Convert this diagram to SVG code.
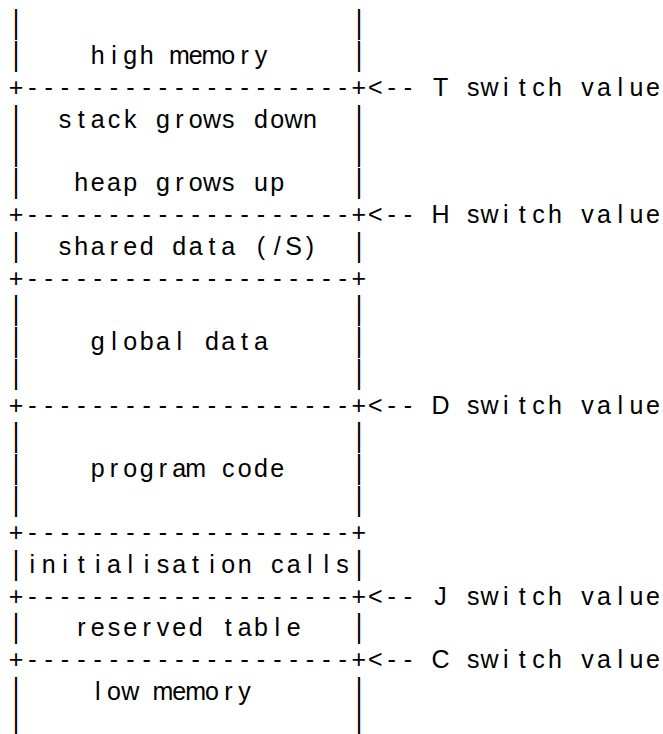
<svg xmlns="http://www.w3.org/2000/svg" xmlns:xlink="http://www.w3.org/1999/xlink" width="663" height="734" viewBox="0 0 663 734">
<style>
text { font-family: "Liberation Sans", Arial, sans-serif; font-size: 25px; fill: #000; text-anchor: middle; }
</style>
<defs>
<text id="border" x="16.0 32.3 48.7 65.0 81.3 97.7 114.0 130.3 146.6 163.0 179.3 195.6 212.0 228.3 244.6 261.0 277.3 293.6 309.9 326.3 342.6 358.9" y="0">+--------------------+</text>
<text id="bars" x="16.0 358.9" y="6.47">||</text>
</defs>
<rect width="663" height="734" fill="#fff"/>

<g id="borders">
<use xlink:href="#border" href="#border" transform="translate(0,96.3)"/>
<use xlink:href="#border" href="#border" transform="translate(0,223.4)"/>
<use xlink:href="#border" href="#border" transform="translate(0,287.0)"/>
<use xlink:href="#border" href="#border" transform="translate(0,414.1)"/>
<use xlink:href="#border" href="#border" transform="translate(0,541.2)"/>
<use xlink:href="#border" href="#border" transform="translate(0,604.8)"/>
<use xlink:href="#border" href="#border" transform="translate(0,668.3)"/>
</g>

<g id="high-memory">
<use href="#bars" transform="translate(0,24.4) scale(1,1.36)"/>
<use href="#bars" transform="translate(0,56.2) scale(1,1.36)"/>
<text x="97.7 114.0 130.3 146.6 163.0 179.3 195.6 212.0 228.3 244.6 261.0" y="64.2">high memory</text>
</g>

<g id="stack-heap">
<use href="#bars" transform="translate(0,119.8) scale(1,1.36)"/>
<use href="#bars" transform="translate(0,151.6) scale(1,1.36)"/>
<use href="#bars" transform="translate(0,183.3) scale(1,1.36)"/>
<text x="65.0 81.3 97.7 114.0 130.3 146.6 163.0 179.3 195.6 212.0 228.3 244.6 261.0 277.3 293.6 309.9" y="127.8">stack grows down</text>
<text x="81.3 97.7 114.0 130.3 146.6 163.0 179.3 195.6 212.0 228.3 244.6 261.0 277.3" y="191.3">heap grows up</text>
</g>

<g id="shared-data">
<use href="#bars" transform="translate(0,246.9) scale(1,1.36)"/>
<text x="65.0 81.3 97.7 114.0 130.3 146.6 163.0 179.3 195.6 212.0 228.3 244.6 261.0 277.3 293.6 309.9" y="254.9">shared data (/S)</text>
</g>

<g id="global-data">
<use href="#bars" transform="translate(0,310.5) scale(1,1.36)"/>
<use href="#bars" transform="translate(0,342.2) scale(1,1.36)"/>
<use href="#bars" transform="translate(0,374.0) scale(1,1.36)"/>
<text x="97.7 114.0 130.3 146.6 163.0 179.3 195.6 212.0 228.3 244.6 261.0" y="350.2">global data</text>
</g>

<g id="program-code">
<use href="#bars" transform="translate(0,437.6) scale(1,1.36)"/>
<use href="#bars" transform="translate(0,469.4) scale(1,1.36)"/>
<use href="#bars" transform="translate(0,501.1) scale(1,1.36)"/>
<text x="97.7 114.0 130.3 146.6 163.0 179.3 195.6 212.0 228.3 244.6 261.0 277.3" y="477.4">program code</text>
</g>

<g id="initialisation-calls">
<use href="#bars" transform="translate(0,564.7) scale(1,1.36)"/>
<text x="32.3 48.7 65.0 81.3 97.7 114.0 130.3 146.6 163.0 179.3 195.6 212.0 228.3 244.6 261.0 277.3 293.6 309.9 326.3 342.6" y="572.7">initialisation calls</text>
</g>

<g id="reserved-table">
<use href="#bars" transform="translate(0,628.3) scale(1,1.36)"/>
<text x="81.3 97.7 114.0 130.3 146.6 163.0 179.3 195.6 212.0 228.3 244.6 261.0 277.3 293.6" y="636.3">reserved table</text>
</g>

<g id="low-memory">
<use href="#bars" transform="translate(0,691.8) scale(1,1.36)"/>
<use href="#bars" transform="translate(0,723.6) scale(1,1.36)"/>
<text x="97.7 114.0 130.3 146.6 163.0 179.3 195.6 212.0 228.3 244.6" y="699.8">low memory</text>
</g>

<g id="connectors">
<text x="375.3 391.6 407.9 424.3 440.6 456.9 473.2 489.6 505.9 522.2 538.6 554.9 571.2 587.6 603.9 620.2 636.5 652.9" y="96.3">&lt;-- T switch value</text>
<text x="375.3 391.6 407.9 424.3 440.6 456.9 473.2 489.6 505.9 522.2 538.6 554.9 571.2 587.6 603.9 620.2 636.5 652.9" y="223.4">&lt;-- H switch value</text>
<text x="375.3 391.6 407.9 424.3 440.6 456.9 473.2 489.6 505.9 522.2 538.6 554.9 571.2 587.6 603.9 620.2 636.5 652.9" y="414.1">&lt;-- D switch value</text>
<text x="375.3 391.6 407.9 424.3 440.6 456.9 473.2 489.6 505.9 522.2 538.6 554.9 571.2 587.6 603.9 620.2 636.5 652.9" y="604.8">&lt;-- J switch value</text>
<text x="375.3 391.6 407.9 424.3 440.6 456.9 473.2 489.6 505.9 522.2 538.6 554.9 571.2 587.6 603.9 620.2 636.5 652.9" y="668.3">&lt;-- C switch value</text>
</g>
</svg>
